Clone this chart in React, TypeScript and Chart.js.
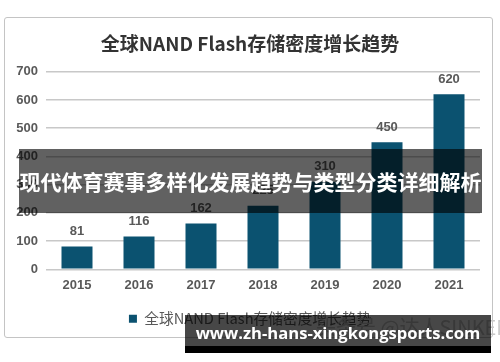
import React, { useEffect, useRef } from "react";
import { Chart, registerables } from "chart.js";

Chart.register(...registerables);

const chartTitle = "全球NAND Flash存储密度增长趋势";
const seriesName = "全球NAND Flash存储密度增长趋势";
const years = ["2015", "2016", "2017", "2018", "2019", "2020", "2021"];
const density = [81, 116, 162, 225, 310, 450, 620];
const yTicks = [0, 100, 200, 300, 400, 500, 600, 700];
const bannerText = "现代体育赛事多样化发展趋势与类型分类详细解析";
const watermarkText = "www.zh-hans-xingkongsports.com";
const faintText = "头条号 @达人SINKEMP";

const BAR_COLOR = "#0b5270";
const TEXT_GRAY = "#595959";
const NUM_FONT = "'Liberation Sans', Arial, sans-serif";
const CJK_FONT = "'Noto Sans CJK SC', 'Liberation Sans', sans-serif";

const valueLabels = {
  id: "valueLabels",
  afterDatasetsDraw(chart: any) {
    const ctx = chart.ctx;
    const meta = chart.getDatasetMeta(0);
    ctx.save();
    ctx.font = `bold 13px ${NUM_FONT}`;
    ctx.fillStyle = TEXT_GRAY;
    ctx.textAlign = "center";
    ctx.textBaseline = "middle";
    meta.data.forEach((el: any, i: number) => {
      ctx.fillText(String(chart.data.datasets[0].data[i]), el.x, el.y - 15);
    });
    ctx.restore();
  },
};

export default function App() {
  const ref = useRef<HTMLCanvasElement | null>(null);

  useEffect(() => {
    document.body.style.margin = "0";
    if (!ref.current) return;
    const chart = new Chart(ref.current, {
      type: "bar",
      data: {
        labels: years,
        datasets: [
          {
            label: seriesName,
            data: density,
            backgroundColor: BAR_COLOR,
            borderWidth: 0,
            barPercentage: 0.5,
            categoryPercentage: 1,
          },
        ],
      },
      options: {
        animation: false,
        responsive: false,
        maintainAspectRatio: false,
        layout: { padding: { left: 10, right: 10, top: 32, bottom: 26 } },
        plugins: {
          title: {
            display: true,
            text: chartTitle,
            color: "#333333",
            font: { family: CJK_FONT, size: 19, weight: "bold" },
            padding: { top: 0, bottom: 17 },
          },
          legend: {
            display: true,
            position: "bottom",
            labels: {
              boxWidth: 8,
              boxHeight: 8,
              padding: 10,
              color: TEXT_GRAY,
              font: { family: CJK_FONT, size: 14.7 },
            },
          },
          tooltip: { enabled: false },
        },
        scales: {
          x: {
            grid: { display: false, drawTicks: false },
            border: { display: false },
            ticks: {
              color: TEXT_GRAY,
              padding: 8,
              font: { family: NUM_FONT, size: 13, weight: "bold" },
            },
            afterFit: (s: any) => {
              s.height = 32;
            },
          },
          y: {
            min: 0,
            max: 700,
            afterBuildTicks: (s: any) => {
              s.ticks = yTicks.map((v) => ({ value: v }));
            },
            grid: { color: "#c8c8c8", lineWidth: 1.5, drawTicks: false },
            border: { display: false },
            ticks: {
              color: TEXT_GRAY,
              padding: 8,
              font: { family: NUM_FONT, size: 13, weight: "bold" },
            },
            afterFit: (s: any) => {
              s.width = 36;
            },
          },
          yRight: {
            position: "right",
            display: true,
            grid: { display: false, drawTicks: false },
            border: { display: false },
            ticks: { display: false },
            afterFit: (s: any) => {
              s.width = 10;
            },
          },
        },
      },
      plugins: [valueLabels],
    });
    return () => chart.destroy();
  }, []);

  return (
    <div style={{ position: "relative", width: 500, height: 362, background: "#fff", overflow: "hidden" }}>
      <div
        style={{
          position: "absolute",
          left: 4,
          top: 17,
          width: 489,
          height: 321,
          border: "1.5px solid #c4c4c4",
          borderRadius: 3,
          boxSizing: "border-box",
        }}
      />
      <canvas ref={ref} width={500} height={362} style={{ position: "absolute", left: 0, top: 0 }} />
      <div
        style={{
          position: "absolute",
          left: 19,
          top: 149,
          width: 463,
          height: 64,
          background: "rgba(0,0,0,0.62)",
          color: "#fff",
          fontFamily: CJK_FONT,
          fontWeight: "bold",
          fontSize: 21,
          lineHeight: "64px",
          textAlign: "center",
          whiteSpace: "nowrap",
        }}
      >
        {bannerText}
      </div>
      <div
        style={{
          position: "absolute",
          left: 316,
          top: 315,
          fontFamily: CJK_FONT,
          fontSize: 20,
          lineHeight: "24px",
          color: "#c8c8c8",
          whiteSpace: "nowrap",
        }}
      >
        {faintText}
      </div>
      <div
        style={{
          position: "absolute",
          left: 185,
          top: 315,
          width: 306,
          height: 31,
          background: "rgba(0,0,0,0.72)",
        }}
      />
      <div
        style={{
          position: "absolute",
          left: 185,
          top: 346,
          width: 306,
          height: 7,
          background: "#000",
        }}
      />
      <div
        style={{
          position: "absolute",
          left: 185,
          top: 318,
          width: 306,
          height: 30,
          color: "#fff",
          fontFamily: "'Open Sans', sans-serif",
          fontWeight: "bold",
          fontSize: 16.6,
          lineHeight: "30px",
          textAlign: "center",
          whiteSpace: "nowrap",
        }}
      >
        {watermarkText}
      </div>
    </div>
  );
}
